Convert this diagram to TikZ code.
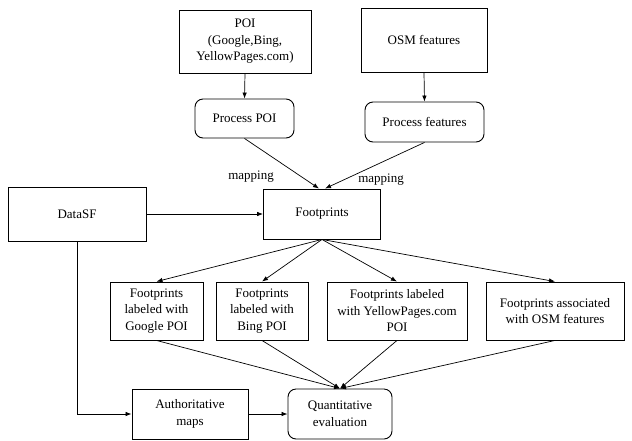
\documentclass[tikz,border=0pt]{standalone}
\usepackage{fontspec}
\setmainfont{Liberation Serif}
\usetikzlibrary{arrows.meta}
\begin{document}
\begin{tikzpicture}[x=1pt,y=-1pt,
  box/.style={draw, line width=0.9pt, align=center, inner sep=0pt, font=\fontsize{13}{16.5}\selectfont},
  rbox/.style={box, rounded corners=8pt},
  lbl/.style={inner sep=0pt, font=\fontsize{13}{16.5}\selectfont},
  arr/.style={-{Latex[length=6pt,width=4.5pt]}, line width=0.7pt}]
\useasboundingbox (0,0) rectangle (632,440);
\node[box, minimum width=132, minimum height=63] (poi) at (245,41.5) {POI\\(Google,Bing,\\YellowPages.com)};
\node[box, minimum width=126, minimum height=64] (osm) at (424,40) {OSM features};
\node[rbox, minimum width=99, minimum height=39] (ppoi) at (244.5,118.5) {Process POI};
\node[rbox, minimum width=119, minimum height=40] (pfeat) at (424.5,122) {Process features};
\node[box, minimum width=117, minimum height=50] (fp) at (322,214) {Footprints};
\node[box, minimum width=138, minimum height=54] (dsf) at (77,214) {DataSF};
\node[box, minimum width=93, minimum height=58] (g) at (156.5,311) {Footprints\\labeled with\\Google POI};
\node[box, minimum width=92, minimum height=58] (b) at (262,311) {Footprints\\labeled with\\Bing POI};
\node[box, minimum width=140, minimum height=58] (yp) at (397,311) {Footprints labeled\\with YellowPages.com\\POI};
\node[box, minimum width=138, minimum height=58] (oa) at (555,311) {Footprints associated\\with OSM features};
\node[box, minimum width=116, minimum height=50] (am) at (190,414) {Authoritative\\maps};
\node[rbox, minimum width=104, minimum height=50] (qe) at (340,414) {Quantitative\\evaluation};
\node[lbl] (m1) at (251,177) {mapping};
\node[lbl] (m2) at (381,180) {mapping};
\draw[arr] (poi.south) -- (ppoi.north);
\draw[arr] (osm.south) -- (pfeat.north);
\draw[arr] (ppoi.south) -- ([xshift=-3pt]fp.north);
\draw[arr] (pfeat.south) -- ([xshift=3pt]fp.north);
\draw[arr] (dsf.east) -- (fp.west);
\draw[arr] (fp.south) -- (g.north);
\draw[arr] (fp.south) -- (b.north);
\draw[arr] (fp.south) -- (yp.north);
\draw[arr] (fp.south) -- (oa.north);
\draw[arr] (g.south) -- (qe.north);
\draw[arr] (b.south) -- (qe.north);
\draw[arr] (yp.south) -- (qe.north);
\draw[arr] (oa.south) -- (qe.north);
\draw[arr] (dsf.south) |- (am.west);
\draw[arr] (am.east) -- (qe.west);
\end{tikzpicture}
\end{document}
